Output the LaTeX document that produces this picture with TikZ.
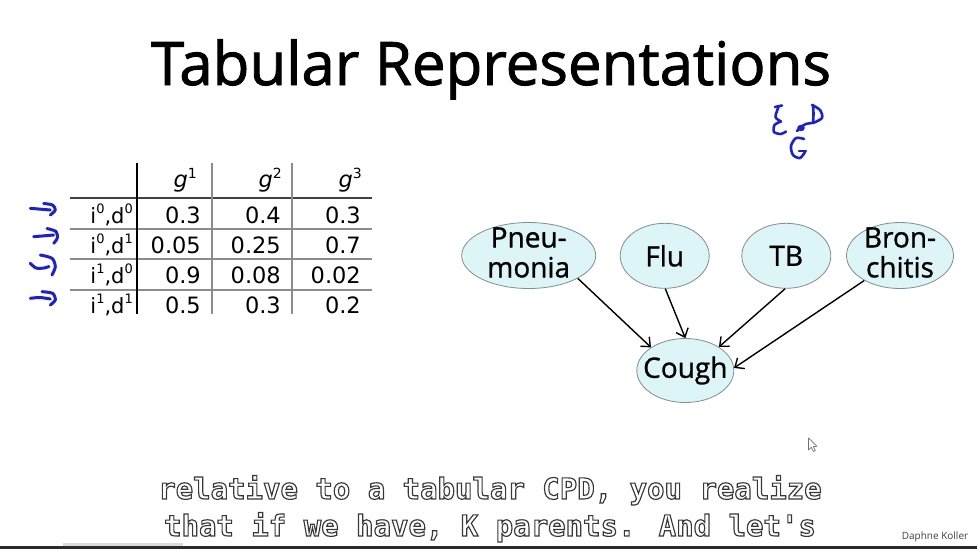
\documentclass[tikz,border=0pt]{standalone}
\usepackage{fontspec}
\setmainfont{Open Sans}
\newfontfamily\titlefont{Open Sans}[FakeBold=1.5]
\newfontfamily\nodefont{Open Sans}[FakeBold=1]
\newfontfamily\tabfont{DejaVu Sans}
\newfontfamily\capfont{DejaVu Sans Mono Bold}
\usetikzlibrary{arrows.meta,shapes.geometric}
\definecolor{ellfill}{HTML}{DDF5F7}
\definecolor{ellline}{HTML}{7F8E90}
\definecolor{pen}{HTML}{1C22C8}
\newcommand{\outl}[1]{{\color{white}\special{pdf:literal direct 0.22 0.22 0.22 RG 1.15 w 2 Tr}#1\special{pdf:literal direct 0 Tr}}}
\begin{document}
\begin{tikzpicture}[x=1pt,y=-1pt,
  ell/.style={ellipse,draw=ellline,line width=0.8pt,fill=ellfill,inner sep=0pt},
  lbl/.style={font=\nodefont\fontsize{28}{30}\selectfont,align=center,inner sep=0pt},
  edge/.style={line width=1.4pt,-{Straight Barb[length=7.5pt,width=13pt,line width=1.4pt]}},
  num/.style={anchor=base east,inner sep=0pt,font=\tabfont\fontsize{22.5}{24}\selectfont},
  rowlab/.style={anchor=base east,inner sep=0pt,font=\tabfont\fontsize{21}{24}\selectfont},
  gridline/.style={draw=black!45,line width=1.4pt},
  penline/.style={draw=pen,line width=3pt,line cap=round,line join=round},
  captxt/.style={font=\capfont\fontsize{29}{30}\selectfont,inner sep=0pt,anchor=base}]
\useasboundingbox (0,0) rectangle (977,549);
\fill[white] (0,0) rectangle (977,549);

% captions (drawn first)
\node[captxt] (cap1) at (490,499) {\outl{relative to a tabular CPD, you realize}};
\node[captxt] (cap2) at (490,536) {\outl{that if we have, K parents. And let's}};

% title
\node[anchor=base,inner sep=0pt,font=\titlefont\fontsize{60}{60}\selectfont] (title) at (491,85) {Tabular Representations};

% table lines
\draw[black!75,line width=2pt] (70,198) -- (372,198);
\draw[gridline] (70,229) -- (372,229);
\draw[gridline] (70,259) -- (372,259);
\draw[gridline] (70,290) -- (372,290);
\draw[black,line width=2.4pt] (137,163) -- (137,314);
\draw[gridline] (212,163) -- (212,314);
\draw[gridline] (292,163) -- (292,314);

% header
\newcommand{\gsup}[1]{{\itshape g}\raisebox{0.38em}{\fontsize{14}{14}\selectfont #1}}
\node[num] (h1) at (197,187) {\gsup{1}};
\node[num] (h2) at (282,187) {\gsup{2}};
\node[num] (h3) at (362,187) {\gsup{3}};

\newcommand{\isup}[1]{\raisebox{0.45em}{\fontsize{13}{13}\selectfont #1}}
% rows
\node[rowlab] (r1) at (133,223) {i\isup{0},d\isup{0}};
\node[rowlab] (r2) at (133,253) {i\isup{0},d\isup{1}};
\node[rowlab] (r3) at (133,283) {i\isup{1},d\isup{0}};
\node[rowlab] (r4) at (133,313) {i\isup{1},d\isup{1}};

\node[num] (a1) at (201,223) {0.3};
\node[num] (b1) at (281,223) {0.4};
\node[num] (c1) at (361,223) {0.3};
\node[num] (a2) at (201,253) {0.05};
\node[num] (b2) at (281,253) {0.25};
\node[num] (c2) at (361,253) {0.7};
\node[num] (a3) at (201,283) {0.9};
\node[num] (b3) at (281,283) {0.08};
\node[num] (c3) at (361,283) {0.02};
\node[num] (a4) at (201,313) {0.5};
\node[num] (b4) at (281,313) {0.3};
\node[num] (c4) at (361,313) {0.2};

% blue hooks
\draw[penline] (30.3,208.3) -- (50.3,210);
\draw[penline] plot[smooth] coordinates {(43.7,203.5) (52.5,205) (55.3,210) (50.3,215)};
\draw[penline] (33.7,236.7) -- (53.7,235);
\draw[penline] plot[smooth] coordinates {(47,228.5) (56,231.5) (57.3,238) (53.7,243.3)};
\draw[penline] plot[smooth] coordinates {(30.3,263.3) (36,268) (44,268) (49,266.5)};
\draw[penline] plot[smooth] coordinates {(40.3,255) (52,258.3) (55.3,266.7) (52,275)};
\draw[penline] plot[smooth] coordinates {(30.3,298.3) (40,297.5) (50.3,299)};
\draw[penline] plot[smooth] coordinates {(42,291.7) (52.5,293.3) (55.3,300) (50.3,305)};

% handwriting {I,D} G
\draw[penline,line width=2.6pt] (775,107) -- (782,105.5);
\draw[penline,line width=2.6pt] plot[smooth] coordinates {(778.5,107) (775.5,117) (781,121.5)};
\draw[penline,line width=2.6pt] plot[smooth] coordinates {(781,121.5) (774.5,125) (774,132) (781,134) (786,131.5)};
\draw[penline,line width=2.6pt] plot[smooth] coordinates {(813,105) (813.5,114) (813,123)};
\draw[penline,line width=2.6pt] plot[smooth] coordinates {(812,105) (820,110) (822,118) (813,123)};
\draw[penline,line width=2.6pt] plot[smooth] coordinates {(797,131) (801,127) (806,124) (812,123)};
\fill[pen] (801,128) ellipse (3.8pt and 3.2pt);
\draw[penline,line width=2.6pt] plot[smooth] coordinates {(804,139) (796,138) (791,146) (793,155) (800,158) (805,152)};
\draw[penline,line width=2.6pt] (799,151) -- (806,151);

% graph
\node[ell,minimum width=134pt,minimum height=66pt,label={[lbl,yshift=3pt]center:{Pneu-\\monia}}] (pn) at (528.7,255.5) {};
\node[ell,minimum width=89pt,minimum height=65pt,label={[lbl]center:Flu}] (flu) at (664.7,255.8) {};
\node[ell,minimum width=89pt,minimum height=65pt,label={[lbl]center:TB}] (tb) at (786.3,255.8) {};
\node[ell,minimum width=107pt,minimum height=66pt,label={[lbl,yshift=3pt]center:{Bron-\\chitis}}] (br) at (900,255.5) {};
\node[ell,minimum width=97pt,minimum height=64pt,label={[lbl]center:Cough}] (cough) at (685.3,370.5) {};

\draw[edge] (pn.-25) -- (cough.146);
\draw[edge] (flu.-89) -- (cough.90);
\draw[edge] (tb.-92) -- (cough.35);
\draw[edge] (br.-145) -- (cough.3);

% cursor
\filldraw[fill=white,draw=black!55,line width=0.7pt,line join=round]
  (808.5,438) -- (808.5,450) -- (811.3,447.3) -- (813.4,451.5) -- (815.3,450.6) -- (813.3,446.5) -- (817,446.3) -- cycle;

\node[inner sep=0pt,font=\fontsize{10}{10}\selectfont,text=black!75,anchor=base] (dk) at (935,539) {Daphne Koller};

% bottom bars
\fill[black!14] (63,543) rectangle (183,546);
\fill[black!83] (0,546) rectangle (977,549);
\end{tikzpicture}
\end{document}
